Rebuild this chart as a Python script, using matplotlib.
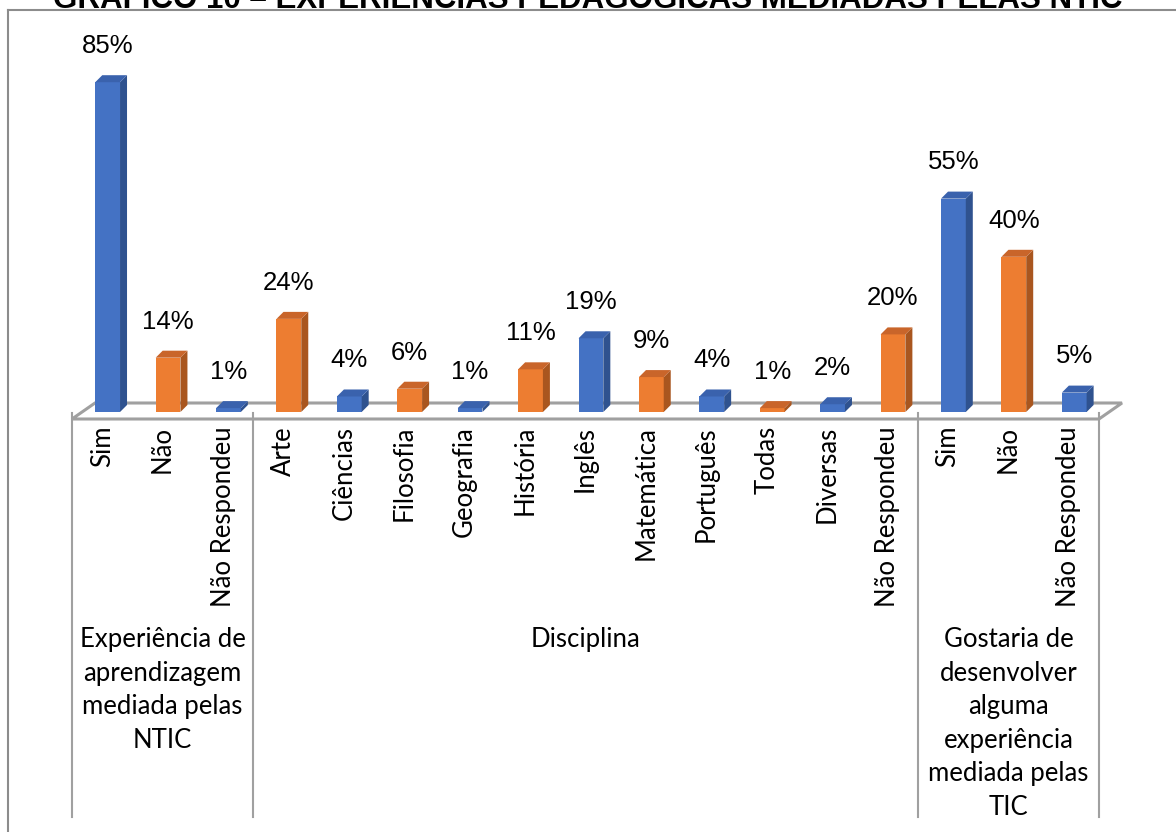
import matplotlib
matplotlib.use("Agg")
import matplotlib.pyplot as plt
from matplotlib.patches import Polygon
from matplotlib.lines import Line2D

# categories and values (%)
categorias = ["Sim", "Não", "Não Respondeu",
              "Arte", "Ciências", "Filosofia", "Geografia", "História", "Inglês",
              "Matemática", "Português", "Todas", "Diversas", "Não Respondeu",
              "Sim", "Não", "Não Respondeu"]
valores = [85, 14, 1,
           24, 4, 6, 1, 11, 19, 9, 4, 1, 2, 20,
           55, 40, 5]
grupos = ["Experiência de\naprendizagem\nmediada pelas\nNTIC",
          "Disciplina",
          "Gostaria de\ndesenvolver\nalguma\nexperiência\nmediada pelas\nTIC"]
grupo_tamanhos = [3, 11, 3]
titulo = "GRÁFICO 10 – EXPERIÊNCIAS PEDAGÓGICAS MEDIADAS PELAS NTIC"

azul, azul_lado, azul_topo = "#4472C4", "#2F528F", "#3A62AD"
laranja, laranja_lado, laranja_topo = "#ED7D31", "#A9561F", "#C9652A"
cinza = "#A0A0A0"

W, H = 1176, 832
fig = plt.figure(figsize=(W / 100, H / 100), dpi=100)

# main plot area (pixels: x 72..1099, y 10..419)
ax = fig.add_axes([72 / W, (H - 419) / H, (1099 - 72) / W, (419 - 10) / H])
px = 3.88  # pixels per percent
ax.set_xlim(-0.5, 16.5)
ax.set_ylim(-7 / px, (412 - 10) / px)
ax.axis("off")

# floor of the 3d chart
fy0, fy1 = -7 / px, 9 / px
fdx = 23 / 60.4
ax.add_patch(Polygon([(-0.5, fy0), (16.5, fy0), (16.5 + fdx, fy1), (-0.5 + fdx, fy1)],
                     closed=True, facecolor="white", edgecolor=cinza, lw=2.2,
                     clip_on=False, zorder=1))

largura = 0.41
dx, dy = 7 / 60.4, 7 / px
for i, v in enumerate(valores):
    if i % 2 == 0:
        cf, cl, ct = azul, azul_lado, azul_topo
    else:
        cf, cl, ct = laranja, laranja_lado, laranja_topo
    xc = i + 0.09
    x0, x1 = xc - largura / 2, xc + largura / 2
    ax.bar(xc, v, width=largura, color=cf, zorder=3)
    ax.add_patch(Polygon([(x1, 0), (x1 + dx, dy), (x1 + dx, v + dy), (x1, v)],
                         closed=True, facecolor=cl, edgecolor="none", zorder=3, clip_on=False))
    ax.add_patch(Polygon([(x0, v), (x1, v), (x1 + dx, v + dy), (x0 + dx, v + dy)],
                         closed=True, facecolor=ct, edgecolor="none", zorder=3, clip_on=False))
    ax.annotate(f"{v}%", (xc, v), xytext=(0, 26), textcoords="offset points",
                ha="center", va="center", fontsize=18.5, family="Liberation Sans",
                color="black", annotation_clip=False)

# category table below the floor
lab = fig.add_axes([72 / W, 0, (1099 - 72) / W, 419 / H])
lab.set_xlim(-0.5, 16.5)
lab.set_ylim(419, 0)
lab.axis("off")

for i, c in enumerate(categorias):
    lab.text(i, 13, c, rotation=90, ha="center", va="top", fontsize=18.5,
             family="Lato", color="black")

inicio = -0.5
sep = [inicio]
for g, n in zip(grupos, grupo_tamanhos):
    centro = inicio + n / 2
    lab.text(centro, 214, g, ha="center", va="top", fontsize=18.5, family="Lato",
             linespacing=1.43, color="black")
    inicio += n
    sep.append(inicio)
for s in sep:
    lab.plot([s, s], [0, 404], color=cinza, lw=1.5, clip_on=False)

# outer frame (cut at the top/right)
fig.add_artist(Line2D([8 / W, 8 / W], [0, (H - 10) / H], color="#8C8C8C", lw=1.5))
fig.add_artist(Line2D([8 / W, 1], [(H - 10) / H, (H - 10) / H], color="#8C8C8C", lw=1.5))

fig.text(588 / W, (H - 8) / H, titulo, ha="center", va="baseline", fontsize=22.5,
         weight="bold", family="Liberation Sans")

fig.savefig("out.png", dpi=100)
